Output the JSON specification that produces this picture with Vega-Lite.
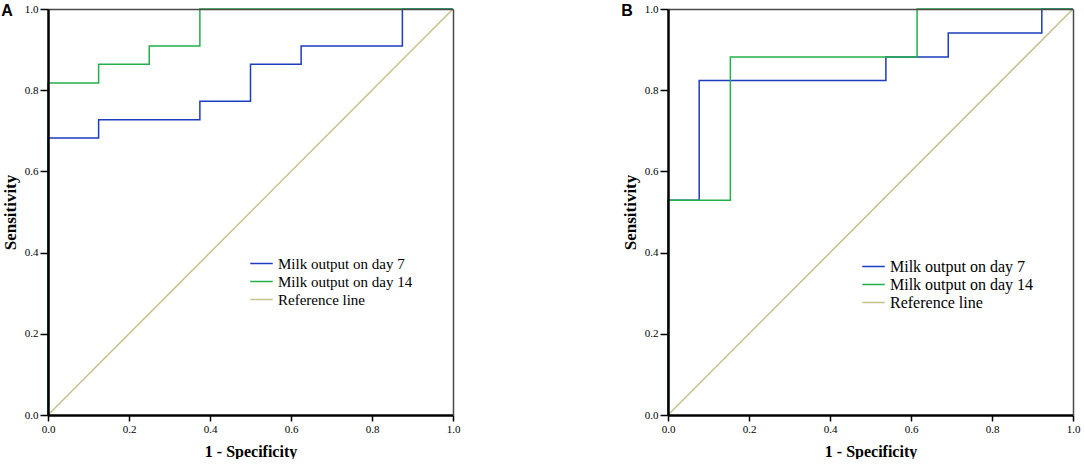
{
  "$schema": "https://vega.github.io/schema/vega-lite/v6.json",
  "padding": {"left": 1, "top": 3, "right": 2, "bottom": 0},
  "datasets": {
    "roc": [
      {"panel": "A", "curve": "Milk output on day 7", "step": 1, "fpr": 0, "tpr": 0},
      {"panel": "A", "curve": "Milk output on day 7", "step": 2, "fpr": 0, "tpr": 0.682},
      {"panel": "A", "curve": "Milk output on day 7", "step": 3, "fpr": 0.125, "tpr": 0.682},
      {"panel": "A", "curve": "Milk output on day 7", "step": 4, "fpr": 0.125, "tpr": 0.727},
      {"panel": "A", "curve": "Milk output on day 7", "step": 5, "fpr": 0.375, "tpr": 0.727},
      {"panel": "A", "curve": "Milk output on day 7", "step": 6, "fpr": 0.375, "tpr": 0.773},
      {"panel": "A", "curve": "Milk output on day 7", "step": 7, "fpr": 0.5, "tpr": 0.773},
      {"panel": "A", "curve": "Milk output on day 7", "step": 8, "fpr": 0.5, "tpr": 0.864},
      {"panel": "A", "curve": "Milk output on day 7", "step": 9, "fpr": 0.625, "tpr": 0.864},
      {"panel": "A", "curve": "Milk output on day 7", "step": 10, "fpr": 0.625, "tpr": 0.909},
      {"panel": "A", "curve": "Milk output on day 7", "step": 11, "fpr": 0.875, "tpr": 0.909},
      {"panel": "A", "curve": "Milk output on day 7", "step": 12, "fpr": 0.875, "tpr": 1},
      {"panel": "A", "curve": "Milk output on day 7", "step": 13, "fpr": 1, "tpr": 1},
      {"panel": "A", "curve": "Milk output on day 14", "step": 1, "fpr": 0, "tpr": 0},
      {"panel": "A", "curve": "Milk output on day 14", "step": 2, "fpr": 0, "tpr": 0.818},
      {"panel": "A", "curve": "Milk output on day 14", "step": 3, "fpr": 0.125, "tpr": 0.818},
      {"panel": "A", "curve": "Milk output on day 14", "step": 4, "fpr": 0.125, "tpr": 0.864},
      {"panel": "A", "curve": "Milk output on day 14", "step": 5, "fpr": 0.25, "tpr": 0.864},
      {"panel": "A", "curve": "Milk output on day 14", "step": 6, "fpr": 0.25, "tpr": 0.909},
      {"panel": "A", "curve": "Milk output on day 14", "step": 7, "fpr": 0.375, "tpr": 0.909},
      {"panel": "A", "curve": "Milk output on day 14", "step": 8, "fpr": 0.375, "tpr": 1},
      {"panel": "A", "curve": "Milk output on day 14", "step": 9, "fpr": 1, "tpr": 1},
      {"panel": "A", "curve": "Reference line", "step": 1, "fpr": 0, "tpr": 0},
      {"panel": "A", "curve": "Reference line", "step": 2, "fpr": 1, "tpr": 1},
      {"panel": "B", "curve": "Milk output on day 7", "step": 1, "fpr": 0, "tpr": 0},
      {"panel": "B", "curve": "Milk output on day 7", "step": 2, "fpr": 0, "tpr": 0.529},
      {"panel": "B", "curve": "Milk output on day 7", "step": 3, "fpr": 0.077, "tpr": 0.529},
      {"panel": "B", "curve": "Milk output on day 7", "step": 4, "fpr": 0.077, "tpr": 0.824},
      {"panel": "B", "curve": "Milk output on day 7", "step": 5, "fpr": 0.538, "tpr": 0.824},
      {"panel": "B", "curve": "Milk output on day 7", "step": 6, "fpr": 0.538, "tpr": 0.882},
      {"panel": "B", "curve": "Milk output on day 7", "step": 7, "fpr": 0.692, "tpr": 0.882},
      {"panel": "B", "curve": "Milk output on day 7", "step": 8, "fpr": 0.692, "tpr": 0.941},
      {"panel": "B", "curve": "Milk output on day 7", "step": 9, "fpr": 0.923, "tpr": 0.941},
      {"panel": "B", "curve": "Milk output on day 7", "step": 10, "fpr": 0.923, "tpr": 1},
      {"panel": "B", "curve": "Milk output on day 7", "step": 11, "fpr": 1, "tpr": 1},
      {"panel": "B", "curve": "Milk output on day 14", "step": 1, "fpr": 0, "tpr": 0},
      {"panel": "B", "curve": "Milk output on day 14", "step": 2, "fpr": 0, "tpr": 0.529},
      {"panel": "B", "curve": "Milk output on day 14", "step": 3, "fpr": 0.154, "tpr": 0.529},
      {"panel": "B", "curve": "Milk output on day 14", "step": 4, "fpr": 0.154, "tpr": 0.882},
      {"panel": "B", "curve": "Milk output on day 14", "step": 5, "fpr": 0.615, "tpr": 0.882},
      {"panel": "B", "curve": "Milk output on day 14", "step": 6, "fpr": 0.615, "tpr": 1},
      {"panel": "B", "curve": "Milk output on day 14", "step": 7, "fpr": 1, "tpr": 1},
      {"panel": "B", "curve": "Reference line", "step": 1, "fpr": 0, "tpr": 0},
      {"panel": "B", "curve": "Reference line", "step": 2, "fpr": 1, "tpr": 1}
    ]
  },
  "spacing": 161,
  "hconcat": [
    {
      "title": {"text": "A", "anchor": "start", "frame": "bounds", "baseline": "top", "offset": -16},
      "width": 405,
      "height": 406,
      "data": {"name": "roc"},
      "transform": [{"filter": "datum.panel === 'A'"}],
      "layer": [
        {
          "mark": {"type": "line", "clip": false},
          "encoding": {
            "x": {"field": "fpr", "type": "quantitative", "title": "1 - Specificity", "scale": {"domain": [0, 1], "nice": false}, "axis": {"values": [0, 0.2, 0.4, 0.6, 0.8, 1], "format": ".1f", "tickSize": 6, "zindex": 2}},
            "y": {"field": "tpr", "type": "quantitative", "title": "Sensitivity", "scale": {"domain": [0, 1], "nice": false}, "axis": {"values": [0, 0.2, 0.4, 0.6, 0.8, 1], "format": ".1f", "tickSize": 8, "zindex": 2}},
            "color": {
              "field": "curve",
              "type": "nominal",
              "scale": {"domain": ["Milk output on day 7", "Milk output on day 14", "Reference line"], "range": ["#1e3cc0", "#22b04a", "#c8c08c"]},
              "legend": {"legendX": 204, "legendY": 245, "labelFontSize": 15, "rowPadding": -1}
            },
            "strokeWidth": {
              "field": "curve",
              "type": "nominal",
              "scale": {"domain": ["Milk output on day 7", "Milk output on day 14", "Reference line"], "range": [1.5, 1.5, 1.1]},
              "legend": null
            },
            "order": {"field": "step", "type": "quantitative"}
          }
        },
        {
          "mark": {"type": "line", "opacity": 0},
          "encoding": {
            "x": {"field": "fpr", "type": "quantitative", "scale": {"domain": [0, 1], "nice": false}, "axis": {"orient": "top", "title": null, "labels": false, "ticks": false, "domainColor": "#4a4a4a", "domainWidth": 1.5, "zindex": 2}},
            "y": {"field": "tpr", "type": "quantitative", "scale": {"domain": [0, 1], "nice": false}, "axis": {"orient": "right", "title": null, "labels": false, "ticks": false, "domainColor": "#4a4a4a", "domainWidth": 1.5, "zindex": 2}}
          }
        }
      ],
      "resolve": {"scale": {"x": "independent", "y": "independent"}, "axis": {"x": "independent", "y": "independent"}}
    },
    {
      "title": {"text": "B", "anchor": "start", "frame": "bounds", "baseline": "top", "offset": -16},
      "width": 405,
      "height": 406,
      "data": {"name": "roc"},
      "transform": [{"filter": "datum.panel === 'B'"}],
      "layer": [
        {
          "mark": {"type": "line", "clip": false},
          "encoding": {
            "x": {"field": "fpr", "type": "quantitative", "title": "1 - Specificity", "scale": {"domain": [0, 1], "nice": false}, "axis": {"values": [0, 0.2, 0.4, 0.6, 0.8, 1], "format": ".1f", "tickSize": 6, "zindex": 2}},
            "y": {"field": "tpr", "type": "quantitative", "title": "Sensitivity", "scale": {"domain": [0, 1], "nice": false}, "axis": {"values": [0, 0.2, 0.4, 0.6, 0.8, 1], "format": ".1f", "tickSize": 8, "zindex": 2}},
            "color": {
              "field": "curve",
              "type": "nominal",
              "scale": {"domain": ["Milk output on day 7", "Milk output on day 14", "Reference line"], "range": ["#1e3cc0", "#22b04a", "#c8c08c"]},
              "legend": {"legendX": 196, "legendY": 248, "labelFontSize": 16, "rowPadding": 0}
            },
            "strokeWidth": {
              "field": "curve",
              "type": "nominal",
              "scale": {"domain": ["Milk output on day 7", "Milk output on day 14", "Reference line"], "range": [1.5, 1.5, 1.1]},
              "legend": null
            },
            "order": {"field": "step", "type": "quantitative"}
          }
        },
        {
          "mark": {"type": "line", "opacity": 0},
          "encoding": {
            "x": {"field": "fpr", "type": "quantitative", "scale": {"domain": [0, 1], "nice": false}, "axis": {"orient": "top", "title": null, "labels": false, "ticks": false, "domainColor": "#4a4a4a", "domainWidth": 1.5, "zindex": 2}},
            "y": {"field": "tpr", "type": "quantitative", "scale": {"domain": [0, 1], "nice": false}, "axis": {"orient": "right", "title": null, "labels": false, "ticks": false, "domainColor": "#4a4a4a", "domainWidth": 1.5, "zindex": 2}}
          }
        }
      ],
      "resolve": {"scale": {"x": "independent", "y": "independent"}, "axis": {"x": "independent", "y": "independent"}}
    }
  ],
  "resolve": {"scale": {"color": "independent", "strokeWidth": "independent"}, "legend": {"color": "independent"}},
  "config": {
    "font": "Liberation Serif",
    "view": {"stroke": null},
    "title": {"font": "Liberation Sans", "fontSize": 16, "fontWeight": "bold", "color": "#000"},
    "axis": {
      "grid": false,
      "domainColor": "#000",
      "domainWidth": 2.5,
      "tickColor": "#000",
      "tickWidth": 1.5,
      "labelFont": "Liberation Serif",
      "labelFontSize": 11,
      "labelColor": "#000",
      "labelPadding": 2,
      "titleFont": "Liberation Serif",
      "titleFontWeight": "bold",
      "titleColor": "#000",
      "labelFlush": false,
      "labelOverlap": false
    },
    "axisX": {"titlePadding": 9, "titleFontSize": 16},
    "axisY": {"titlePadding": 5, "titleFontSize": 17},
    "legend": {
      "orient": "none",
      "title": null,
      "labelFont": "Liberation Serif",
      "labelColor": "#000",
      "symbolType": "M-1.3,0H1.3",
      "symbolSize": 300,
      "symbolStrokeWidth": 1.5,
      "labelOffset": 7,
      "padding": 0
    }
  }
}
